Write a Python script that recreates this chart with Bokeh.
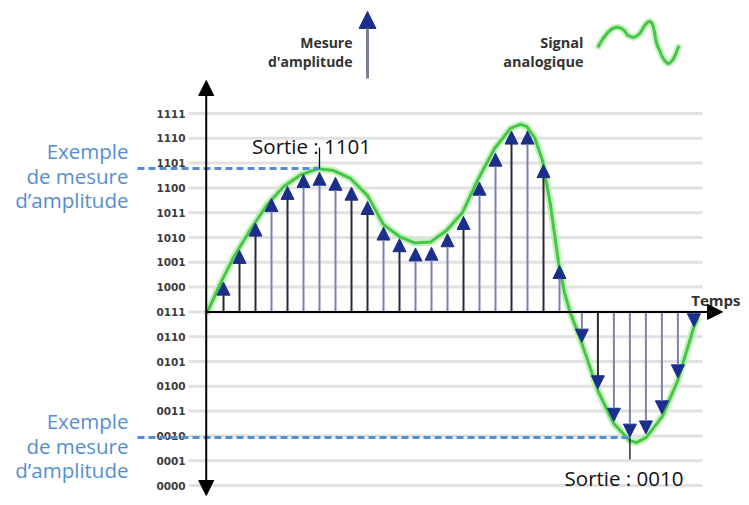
from bokeh.plotting import figure
from bokeh.models import Range1d, ColumnDataSource, Arrow, NormalHead
from bokeh.core.properties import value, field
from bokeh.embed import file_html
from bokeh.resources import INLINE

# ---------------- data ----------------
TICK_LABELS = ["0000", "0001", "0010", "0011", "0100", "0101", "0110", "0111",
               "1000", "1001", "1010", "1011", "1100", "1101", "1110", "1111"]
TICK_LEVELS = [0, 1, 2, 3, 4, 5, 6, 7, 8, 9, 10, 11, 12, 13, 14, 15]
AXIS_LEVEL = 7  # "0111" is the time axis

SAMPLE_T = [1, 2, 3, 4, 5, 6, 7, 8, 9, 10, 11, 12, 13, 14, 15, 16, 17, 18, 19, 20, 21, 22,
            23.4, 24.4, 25.4, 26.4, 27.4, 28.4, 29.4, 30.4]
SAMPLE_V = [8.20, 9.48, 10.58, 11.57, 12.06, 12.54, 12.63, 12.43, 12.03, 11.45,
            10.42, 9.95, 9.58, 9.61, 10.15, 10.85, 12.23, 13.40, 14.29, 14.29,
            12.94, 8.87, 5.78, 3.90, 2.59, 1.95, 2.08, 2.89, 4.34, 6.40]

CURVE_T = [0.00, 0.81, 1.64, 2.69, 3.73, 4.77, 5.81, 6.86, 7.88, 8.94, 10.00, 11.00,
           12.00, 12.94, 13.94, 14.94, 15.94, 16.94, 17.94, 18.94, 19.56, 19.94, 20.44,
           20.94, 21.44, 21.94, 22.31, 22.66, 23.42, 24.42, 25.39, 26.39, 26.81, 27.42,
           28.42, 29.39, 30.39, 30.63]
CURVE_V = [7.00, 8.15, 9.21, 10.32, 11.33, 12.06, 12.52, 12.77, 12.70, 12.38, 11.69, 10.52,
           10.04, 9.78, 9.82, 10.28, 11.01, 12.38, 13.59, 14.40, 14.56, 14.48, 14.03,
           13.10, 11.29, 8.99, 7.78, 7.00, 5.69, 3.79, 2.50, 1.81, 1.73, 1.94,
           2.78, 4.23, 6.37, 6.73]

EXAMPLE_TOP_T, EXAMPLE_TOP_V, OUT_TOP = 7, 12.78, "Sortie : 1101"
EXAMPLE_BOT_T, EXAMPLE_BOT_V, OUT_BOT = 26.4, 1.94, "Sortie : 0010"
EXAMPLE_LINES = ["Exemple", "de mesure", "d\u2019amplitude"]

# ---------------- styles ----------------
DARK, SLATE = "#2b2b2b", "#7b82b3"
STEM_COLORS = [DARK, DARK, DARK, SLATE, DARK, SLATE, SLATE, SLATE, DARK, DARK,
               SLATE, DARK, SLATE, SLATE, SLATE, DARK, SLATE, SLATE, DARK, SLATE,
               DARK, SLATE, SLATE, DARK, SLATE, SLATE, SLATE, SLATE, SLATE, SLATE]
NAVY = "#1b2e8c"
BLUE = "#558ed5"
GREEN, GLOW = "#46c646", "#bdeeb6"

W, H = 741, 497
X0_PAGE, DX = 207.0, 16.0
Y0_PAGE, DY = 485.0, 24.8


def tx(px):
    return (px - X0_PAGE) / DX


def vy(py):
    return (Y0_PAGE - py) / DY


p = figure(width=W, height=H, x_range=Range1d(tx(0), tx(W)),
           y_range=Range1d(vy(H), vy(0)),
           x_axis_location=None, y_axis_location=None,
           toolbar_location=None, output_backend="svg", min_border=0,
           outline_line_color=None, background_fill_color="white",
           border_fill_color="white")
p.grid.visible = False

# grid lines at every code level
p.segment(x0=tx(188), x1=tx(702), y0=TICK_LEVELS, y1=TICK_LEVELS,
          line_color="#e1e1e1", line_width=3)

# tick labels
p.text(x=tx(170.5), y=TICK_LEVELS, text=TICK_LABELS, text_font=value("DejaVu Sans"),
       text_font_style="bold", text_font_size="10.5px", text_color="#3c3c3c",
       text_align="center", text_baseline="middle")

# analog signal
p.line(CURVE_T, CURVE_V, line_color=GLOW, line_width=7.5, line_alpha=0.85,
       line_join="round", line_cap="round")
p.line(CURVE_T, CURVE_V, line_color=GREEN, line_width=3,
       line_join="round", line_cap="round")

# example dashed lines + connectors
p.line([tx(137), EXAMPLE_TOP_T], [EXAMPLE_TOP_V, EXAMPLE_TOP_V], line_color=BLUE,
       line_width=3, line_dash="7 4")
p.line([tx(137), EXAMPLE_BOT_T], [EXAMPLE_BOT_V, EXAMPLE_BOT_V], line_color=BLUE,
       line_width=3, line_dash="7 4")
p.segment(x0=[EXAMPLE_TOP_T, EXAMPLE_BOT_T], x1=[EXAMPLE_TOP_T, EXAMPLE_BOT_T],
          y0=[EXAMPLE_TOP_V, EXAMPLE_BOT_V], y1=[vy(147), vy(459)],
          line_color="#111111", line_width=1.3)

# sampled amplitude measures (arrows)
src = ColumnDataSource(dict(x0=SAMPLE_T, y0=[AXIS_LEVEL] * len(SAMPLE_T),
                            x1=SAMPLE_T, y1=SAMPLE_V, c=STEM_COLORS))
p.add_layout(Arrow(source=src, x_start=field("x0"), y_start=field("y0"),
                   x_end=field("x1"), y_end=field("y1"),
                   line_color=field("c"), line_width=2,
                   end=NormalHead(size=13, fill_color=NAVY, line_color=NAVY, line_width=1)))

# axes with arrow heads
p.add_layout(Arrow(x_start=-0.08, y_start=vy(495), x_end=-0.08, y_end=vy(80),
                   line_color="black", line_width=2,
                   start=NormalHead(size=15, fill_color="black", line_color="black"),
                   end=NormalHead(size=15, fill_color="black", line_color="black")))
p.add_layout(Arrow(x_start=-0.08, y_start=AXIS_LEVEL, x_end=tx(722), y_end=AXIS_LEVEL,
                   line_color="black", line_width=2,
                   end=NormalHead(size=15, fill_color="black", line_color="black")))
p.text(x=[tx(740)], y=[vy(299)], text=["Temps"], text_font=value("Open Sans"),
       text_font_style="bold", text_font_size="15px", text_color="#333333",
       text_align="right", text_baseline="alphabetic")

# "Sortie" labels
p.text(x=[tx(311), tx(623.5)], y=[vy(145), vy(477)], text=[OUT_TOP, OUT_BOT],
       text_font=value("Open Sans"), text_font_size="20.5px", text_color="#111111",
       text_align="center", text_baseline="alphabetic")

# blue example texts
p.text(x=[tx(128)] * 6,
       y=[vy(150.5), vy(175), vy(199.5), vy(420.5), vy(445), vy(469.5)],
       text=EXAMPLE_LINES + EXAMPLE_LINES, text_font=value("Open Sans"),
       text_font_size="20.5px", text_color=BLUE, text_align="right",
       text_baseline="alphabetic")

# ---- legend: measure arrow ----
p.text(x=[tx(352), tx(352)], y=[vy(42), vy(61)], text=["Mesure", "d'amplitude"],
       text_font=value("Open Sans"), text_font_style="bold", text_font_size="14px",
       text_color="#333333", text_align="right", text_baseline="alphabetic")
p.add_layout(Arrow(x_start=tx(367), y_start=vy(78), x_end=tx(367), y_end=vy(11),
                   line_color="#7a7f93", line_width=3,
                   end=NormalHead(size=17, fill_color=NAVY, line_color=NAVY)))

# ---- legend: analog signal (shrunk copy of the curve) ----
p.text(x=[tx(583), tx(583)], y=[vy(42), vy(61)], text=["Signal", "analogique"],
       text_font=value("Open Sans"), text_font_style="bold", text_font_size="14.5px",
       text_color="#333333", text_align="right", text_baseline="alphabetic")
tmin, tmax = min(CURVE_T), max(CURVE_T)
vmin, vmax = min(CURVE_V), max(CURVE_V)
sq_x = [tx(598 + (t - tmin) / (tmax - tmin) * 80) for t in CURVE_T]
sq_y = [vy(63 - (v - vmin) / (vmax - vmin) * 42) for v in CURVE_V]
p.line(sq_x, sq_y, line_color=GLOW, line_width=7, line_alpha=0.85,
       line_join="round", line_cap="round")
p.line(sq_x, sq_y, line_color=GREEN, line_width=3,
       line_join="round", line_cap="round")

open("out.html", "w").write(file_html(p, INLINE))
